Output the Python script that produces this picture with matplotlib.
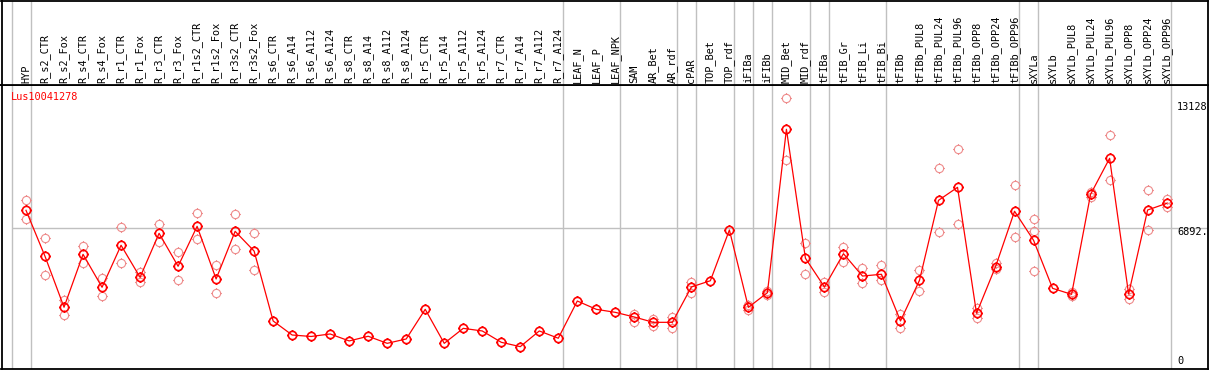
import numpy as np
import matplotlib
matplotlib.use("Agg")
import matplotlib.pyplot as plt
from matplotlib.path import Path

NAN = np.nan

samples = ["HYP", "R_s2_CTR", "R_s2_Fox", "R_s4_CTR", "R_s4_Fox", "R_r1_CTR",
           "R_r1_Fox", "R_r3_CTR", "R_r3_Fox", "R_r1s2_CTR", "R_r1s2_Fox",
           "R_r3s2_CTR", "R_r3s2_Fox", "R_s6_CTR", "R_s6_A14", "R_s6_A112",
           "R_s6_A124", "R_s8_CTR", "R_s8_A14", "R_s8_A112", "R_s8_A124",
           "R_r5_CTR", "R_r5_A14", "R_r5_A112", "R_r5_A124", "R_r7_CTR",
           "R_r7_A14", "R_r7_A112", "R_r7_A124", "LEAF_N", "LEAF_P", "LEAF_NPK",
           "SAM", "AR_Bet", "AR_rdf", "cPAR", "TOP_Bet", "TOP_rdf", "iFIBa",
           "iFIBb", "MID_Bet", "MID_rdf", "tFIBa", "tFIB_Gr", "tFIB_Li",
           "tFIB_Bi", "tFIBb", "tFIBb_PUL8", "tFIBb_PUL24", "tFIBb_PUL96",
           "tFIBb_OPP8", "tFIBb_OPP24", "tFIBb_OPP96", "sXYLa", "sXYLb",
           "sXYLb_PUL8", "sXYLb_PUL24", "sXYLb_PUL96", "sXYLb_OPP8",
           "sXYLb_OPP24", "sXYLb_OPP96"]

# mean expression per sample
means = [7740, 5530, 3080, 5625, 4040, 6060, 4520, 6635, 5050, 6970, 4440,
         6730, 5780, 2420, 1745, 1675, 1795, 1460, 1685, 1345, 1555,
         2980, 1345, 2065, 1940, 1395, 1185, 1940, 1590, 3380, 2980, 2835,
         2610, 2355, 2355, 4055, 4355, 6795, 3075, 3780, 11635, 5435, 4055,
         5655, 4580, 4665, 2420, 4375, 8220, 8845, 2790, 5030, 7695, 6300,
         3990, 3700, 8510, 10240, 3715, 7755, 8075]

# replicate values (nan where hidden behind the mean)
rep_a = [8235, 6395, 3430, 6025, 4470, 6925, 4790, 7080, 5720, 7610, 5095,
         7565, 6635, NAN, NAN, NAN, NAN, NAN, NAN, NAN, NAN,
         NAN, NAN, NAN, NAN, NAN, NAN, NAN, NAN, NAN, NAN, NAN,
         2740, 2515, 2625, 4295, NAN, NAN, 3190, 3875, 13128, 6155, 4310,
         5960, 4965, 5095, 2755, 4855, 9760, 10675, 3030, 5220, 8945, 7310,
         NAN, 3800, 8635, 11345, 3955, 8715, 8300]
rep_b = [7310, 4615, 2720, 5195, 3605, 5195, 4280, 6215, 4390, 6345, 3750,
         5865, 4870, NAN, NAN, NAN, NAN, NAN, NAN, NAN, NAN,
         NAN, NAN, NAN, NAN, NAN, NAN, NAN, NAN, NAN, NAN, NAN,
         2385, 2165, 2080, 3750, NAN, NAN, 2945, 3670, 10145, 4665, 3815,
         5240, 4230, 4390, 2065, 3860, 6685, 7070, 2550, 4905, 6445, 4820,
         NAN, 3635, 8395, 9200, 3460, 6795, 7915]
rep_c = [NAN] * 53 + [6730] + [NAN] * 7

# group boundaries (index of last sample in each group)
group_ends = [-1, 0, 28, 31, 34, 35, 37, 38, 39, 41, 42, 45, 52, 53, 60]

gene = "Lus10041278"
y_top_label = 13128
y_mid_label = 6892

# circle marker with four small ticks
circ = Path.unit_circle()
ticks = Path([(0, 1), (0, 1.28), (0, -1), (0, -1.28), (1, 0), (1.28, 0), (-1, 0), (-1.28, 0)],
             [Path.MOVETO, Path.LINETO] * 4)
sun = Path.make_compound_path(circ, ticks)

W, H = 1209, 370
fig = plt.figure(figsize=(W / 100, H / 100), dpi=100)
mono = "DejaVu Sans Mono"
fs = 7.4

x = np.arange(len(samples))
xlo, xhi = -1.289, 62.15

ax = fig.add_axes([1.5 / W, 1 / H, 1206 / W, 284 / H])
hd = fig.add_axes([1.5 / W, 285 / H, 1206 / W, 84.5 / H])

for a in (ax, hd):
    a.set_xlim(xlo, xhi)
    a.set_xticks([])
    a.set_yticks([])
    for s in a.spines.values():
        s.set_linewidth(1.3)
        s.set_color("black")
    for g in group_ends:
        a.axvline(g + 0.25, color="#c0c0c0", lw=1.0, zorder=0)

ax.set_ylim(111, 13765)
ax.hlines(y_mid_label, -0.75, xhi, color="#c0c0c0", lw=1.0, zorder=0)

rep_color = "#ee8c8c"
for reps in (rep_a, rep_b, rep_c):
    ax.plot(x, reps, linestyle="none", marker=sun, markersize=7.6,
            markerfacecolor="none", markeredgecolor=rep_color, markeredgewidth=0.8,
            zorder=2)

ax.plot(x, means, color="red", lw=0.9, marker=sun, markersize=7.6,
        markerfacecolor="none", markeredgecolor="red", markeredgewidth=1.2, zorder=3)

ax.text(9 / 1206, 0.958, gene, color="red", fontsize=fs, family=mono,
        transform=ax.transAxes, ha="left", va="center")
lx = (1177 - 1.5) / 1206
ax.text(lx, 0.9225, str(y_top_label), fontsize=fs, family=mono,
        transform=ax.transAxes, ha="left", va="center")
ax.text(lx, 0.482, str(y_mid_label) + ".", fontsize=fs, family=mono,
        transform=ax.transAxes, ha="left", va="center")
ax.text(lx, 0.028, "0", fontsize=fs, family=mono,
        transform=ax.transAxes, ha="left", va="center")

for i, name in enumerate(samples):
    hd.text(i, 0.025, name, rotation=90, fontsize=fs, family=mono,
            ha="center", va="bottom", transform=hd.get_xaxis_transform())

fig.savefig("out.png", dpi=100)
